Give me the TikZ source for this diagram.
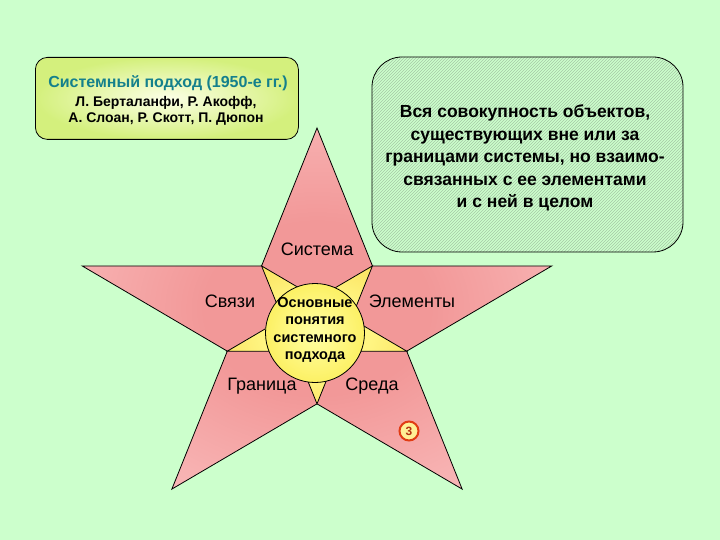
\documentclass[tikz,border=0pt]{standalone}
\usepackage{fontspec}
\setmainfont{Liberation Sans}
\usetikzlibrary{patterns}
\definecolor{bg}{RGB}{204,255,204}
\definecolor{pkd}{RGB}{242,152,152}
\definecolor{pkl}{RGB}{252,202,202}
\definecolor{yld}{RGB}{247,212,70}
\definecolor{yll}{RGB}{255,245,130}
\definecolor{crin}{RGB}{255,255,165}
\definecolor{crout}{RGB}{252,240,100}
\definecolor{boxin}{RGB}{252,255,230}
\definecolor{boxout}{RGB}{212,240,125}
\definecolor{teal}{RGB}{20,128,140}
\definecolor{hatch}{RGB}{165,200,165}
\definecolor{badge}{RGB}{225,60,20}
\definecolor{badgein}{RGB}{255,240,150}
\pgfdeclareradialshading{starshade}{\pgfpoint{0bp}{0bp}}{color(0bp)=(pkd); color(12bp)=(pkd); color(40bp)=(pkl); color(50bp)=(pkl)}
\pgfdeclareradialshading{yshade}{\pgfpoint{0bp}{0bp}}{color(0bp)=(yll); color(15bp)=(yll); color(40bp)=(yld); color(50bp)=(yld)}
\begin{document}
\begin{tikzpicture}[x=1pt,y=-1pt,
  lbl/.style={font=\fontsize{18}{21}\selectfont, text=black, inner sep=0pt},
  edge/.style={draw=black, line width=0.8pt},
  htxt/.style={font=\bfseries\fontsize{14}{15}\selectfont, inner sep=0pt}]
\fill[bg] (0,0) rectangle (720,540);
\useasboundingbox (0,0) rectangle (720,540);

% top-left box
\node[draw=black, line width=0.8pt, rounded corners=12pt, minimum width=263pt,
      minimum height=82pt, inner color=boxin, outer color=boxout, anchor=north west] (hist) at (35,57) {};
\node[htxt, text=teal, font=\bfseries\fontsize{16}{16}\selectfont] (histt) at (168,83) {Системный подход (1950-е гг.)};
\node[htxt] (hist1) at (166,103) {Л. Берталанфи, Р. Акофф,};
\node[htxt] (hist2) at (166,119) {А. Слоан, Р. Скотт, П. Дюпон};

% right box
\node[draw=black, line width=0.8pt, rounded corners=30pt, minimum width=311pt,
      minimum height=195pt, preaction={fill=bg}, pattern=north east lines,
      pattern color=hatch] (env) at (527.5,154.5) {};
\node[align=center, inner sep=0pt, font=\bfseries\fontsize{17.5}{22.5}\selectfont] (envt) at (525,158)
  {Вся совокупность объектов,\\существующих вне или за\\границами системы, но взаимо-\\связанных с ее элементами\\и с ней в целом};

% star geometry
\begin{scope}[shift={(317,327.6)}, x=1.237pt, y=1pt]
  \foreach \i/\a/\b in {0/90/126, 1/162/198, 2/234/270, 3/306/342, 4/18/54} {
    \coordinate (T\i) at (\a:199.6);
    \coordinate (I\i) at (\b:76.25);
  }
\end{scope}

\shade[shading=starshade] (T0) -- (I0) -- (T1) -- (I1) -- (T2) -- (I2) -- (T3) -- (I3) -- (T4) -- (I4) -- cycle;
\draw[edge] (T0) -- (I0) -- (T1) -- (I1) -- (T2) -- (I2) -- (T3) -- (I3) -- (T4) -- (I4) -- cycle;
\shade[shading=yshade] (I0) -- (I2) -- (I4) -- (I1) -- (I3) -- cycle;
\draw[edge] (I0) -- (I2) -- (I4) -- (I1) -- (I3) -- cycle;

% centre circle
\node[circle, draw=black, line width=0.8pt, minimum size=99pt, inner color=crin, outer color=crout] (core) at (315,333) {};
\node[align=center, inner sep=0pt, font=\bfseries\fontsize{14.5}{17.5}\selectfont] (coret) at (315,330)
  {Основные\\понятия\\системного\\подхода};

% labels
\node[lbl] (sys) at (317,249) {Система};
\node[lbl] (link) at (230,301) {Связи};
\node[lbl] (elem) at (412,301) {Элементы};
\node[lbl] (bord) at (262,386) {Граница};
\node[lbl] (envl) at (372,386) {Среда};

% badge
\node[circle, draw=badge, line width=2pt, fill=badgein, minimum size=19pt, inner sep=0pt,
      font=\bfseries\fontsize{12}{12}\selectfont, text=badge!80!black] (num) at (409,431) {3};
\end{tikzpicture}
\end{document}
